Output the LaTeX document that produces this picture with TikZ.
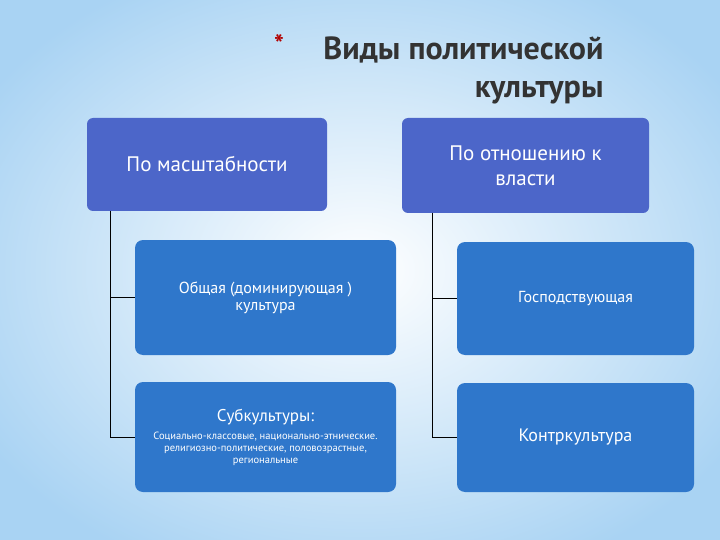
\documentclass[tikz,border=0pt]{standalone}
\usepackage{fontspec}
\setmainfont{PT Sans}
\begin{document}
\begin{tikzpicture}[x=1pt,y=-1pt,
  top/.style={draw=none,fill=topblue,rounded corners=6pt,text=white,align=center,font=\fontsize{21}{25}\selectfont,inner sep=0pt},
  sub/.style={draw=none,fill=subblue,rounded corners=8pt,text=white,align=center,inner sep=0pt},
  ln/.style={draw=black,line width=0.6pt}]
\definecolor{topblue}{HTML}{4C66C9}
\definecolor{subblue}{HTML}{2F77CB}
\definecolor{bgblue}{HTML}{A9D3F3}
\useasboundingbox (0,0) rectangle (720,540);
\shade[inner color=white,outer color=bgblue] (-80,-60) rectangle (800,600);
\node[text=red!70!black,font=\fontsize{26}{26}\selectfont\bfseries] (star) at (279,44) {*};
\node[anchor=east,text=black!80,font=\fontsize{32}{36}\selectfont\bfseries,align=right] (t1) at (607,50) {Виды политической};
\node[anchor=east,text=black!80,font=\fontsize{32}{36}\selectfont\bfseries] (t2) at (607,93) {культуры};
\node[top,minimum width=240pt,minimum height=93pt] (a) at (207,164.5) {По масштабности};
\node[top,minimum width=247pt,minimum height=95pt] (b) at (525.5,165.5) {По отношению к\\власти};
\node[sub,minimum width=261pt,minimum height=115pt,font=\fontsize{16}{17}\selectfont] (c) at (265.5,297.5) {Общая (доминирующая )\\культура};
\node[sub,minimum width=237pt,minimum height=113pt,font=\fontsize{16}{17}\selectfont] (d) at (575.5,298.5) {Господствующая};
\node[sub,minimum width=261pt,minimum height=110pt] (e) at (265.5,437) {\fontsize{17}{20}\selectfont Субкультуры:\\[6pt]\fontsize{10.5}{15}\selectfont Социально-классовые, национально-этнические.\\\fontsize{10.5}{15}\selectfont религиозно-политические, половозрастные,\\\fontsize{10.5}{15}\selectfont региональные};
\node[sub,minimum width=237pt,minimum height=109pt,font=\fontsize{18}{19}\selectfont] (f) at (575.5,437.5) {Контркультура};
\coordinate (al) at (110,211);
\coordinate (bl) at (432,213);
\draw[ln] (al) |- (c.west);
\draw[ln] (al) |- (e.west);
\draw[ln] (bl) |- (d.west);
\draw[ln] (bl) |- (f.west);
\end{tikzpicture}
\end{document}
